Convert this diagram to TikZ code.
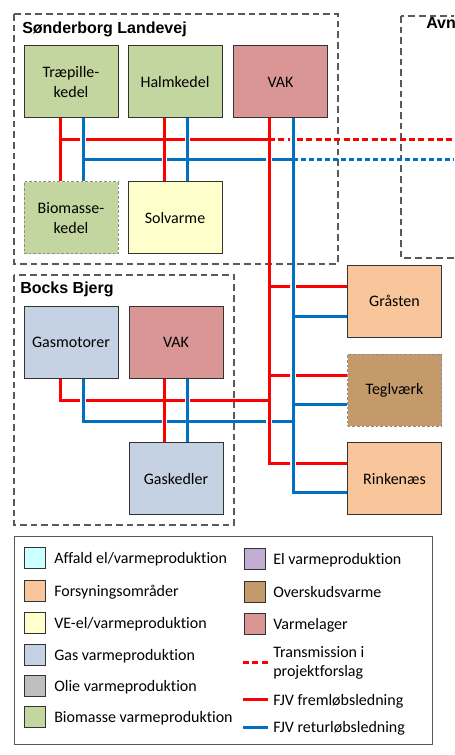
\documentclass[tikz,border=0pt]{standalone}
\usepackage{fontspec}
\setmainfont{Carlito}[Ligatures=NoCommon]
\newfontfamily\titlefont{Liberation Sans}
\usetikzlibrary{calc}

\definecolor{fjvred}{RGB}{255,0,0}
\definecolor{fjvblue}{RGB}{0,112,192}
\definecolor{affald}{RGB}{204,255,255}
\definecolor{forsyning}{RGB}{248,198,154}
\definecolor{vecolor}{RGB}{255,255,204}
\definecolor{gascolor}{RGB}{196,210,228}
\definecolor{oliecolor}{RGB}{191,191,191}
\definecolor{biocolor}{RGB}{196,214,160}
\definecolor{elcolor}{RGB}{194,173,210}
\definecolor{overskud}{RGB}{196,154,106}
\definecolor{lager}{RGB}{217,150,148}

\tikzset{
  box/.style={draw=black!80, line width=0.75pt, minimum width=70.5pt, minimum height=54pt,
    inner sep=0pt, align=center, font=\fontsize{12}{15}\selectfont},
  dashbox/.style={box, draw=black!45, dash pattern=on 2pt off 1.5pt},
  group/.style={draw=black!65, line width=1pt, dash pattern=on 5pt off 3pt},
  frem/.style={draw=fjvred, line width=2.25pt},
  retur/.style={draw=fjvblue, line width=2.25pt},
  transred/.style={frem, dash pattern=on 4.5pt off 2.5pt},
  transblue/.style={retur, dash pattern=on 3.5pt off 2.5pt},
  title/.style={anchor=base west, inner sep=0pt, font=\titlefont\bfseries\fontsize{12}{14}\selectfont},
  swatch/.style={draw=black!80, line width=0.75pt, minimum size=15.75pt, inner sep=0pt},
  legtext/.style={anchor=base west, inner sep=0pt, font=\fontsize{12}{14}\selectfont}
}

\newcommand{\pipegap}[3]{%
  \path (#1 |- #2) coordinate (gap);
  \fill[white] ([xshift=-1.9pt,yshift=-1.5pt]gap) rectangle ([xshift=1.9pt,yshift=1.5pt]gap);
  \draw[#3] ([yshift=-2.6pt]gap) -- ([yshift=2.6pt]gap);
}

\begin{document}
\begin{tikzpicture}[x=0.75pt,y=-0.75pt]
\useasboundingbox (0,0) rectangle (454,755);
\clip (0,0) rectangle (454,755);

\draw[group] (14,14) rectangle (338,264);
\draw[group] (14,275) rectangle (234,525);
\draw[group] (401,16) rectangle (470,258);
\node[title] (tsonder) at (22,34) {Sønderborg Landevej};
\node[title] (tbocks) at (20,293) {Bocks Bjerg};
\node[title] (tavn) at (426,29) {Avn};

\node[box, fill=biocolor] (trae) at (71,82) {Træpille-\\kedel};
\node[box, fill=biocolor] (halm) at (175,82) {Halmkedel};
\node[box, fill=lager] (vaks) at (280.5,82) {VAK};
\node[dashbox, fill=biocolor] (bio) at (71,218) {Biomasse-\\kedel};
\node[box, fill=vecolor] (sol) at (175,218) {Solvarme};

\node[box, fill=gascolor] (gasm) at (71,342.5) {Gasmotorer};
\node[box, fill=lager] (vakb) at (176,342.5) {VAK};
\node[box, fill=gascolor] (gask) at (176,478.5) {Gaskedler};

\node[box, fill=forsyning] (gra) at (394.5,301) {Gråsten};
\node[dashbox, fill=overskud] (tegl) at (394.5,390) {Teglværk};
\node[box, fill=forsyning] (rink) at (394.5,478.5) {Rinkenæs};

\coordinate (xr1) at (60,0);
\coordinate (xb1) at (83,0);
\coordinate (xr2) at (164.5,0);
\coordinate (xb2) at (187.5,0);
\coordinate (xr3) at (269,0);
\coordinate (xb3) at (293,0);
\coordinate (xend) at (454,0);
\coordinate (yr1) at (0,140);
\coordinate (yb1) at (0,160);
\coordinate (yr2) at (0,400);
\coordinate (yb2) at (0,421);
\coordinate (gr) at ($(gra.west)+(0,-15)$);
\coordinate (gb) at ($(gra.west)+(0,15)$);
\coordinate (tr) at ($(tegl.west)+(0,-15)$);
\coordinate (tb) at ($(tegl.west)+(0,14)$);
\coordinate (rr) at ($(rink.west)+(0,-15.5)$);
\coordinate (rb) at ($(rink.west)+(0,13.5)$);

\draw[frem] (trae.south -| xr1) -- (bio.north -| xr1);
\draw[retur] (trae.south -| xb1) -- (bio.north -| xb1);
\draw[frem] (halm.south -| xr2) -- (sol.north -| xr2);
\draw[retur] (halm.south -| xb2) -- (sol.north -| xb2);
\draw[frem] (xr1 |- yr1) -- (xr3 |- yr1);
\draw[retur] (xb1 |- yb1) -- (xb3 |- yb1);
\draw[transred] (xr3 |- yr1) -- (xend |- yr1);
\draw[transblue] (xb3 |- yb1) -- (xend |- yb1);

\draw[frem] (vaks.south -| xr3) |- (rr);
\draw[retur] (vaks.south -| xb3) |- (rb);
\draw[frem] (gr -| xr3) -- (gr);
\draw[retur] (gb -| xb3) -- (gb);
\draw[frem] (tr -| xr3) -- (tr);
\draw[retur] (tb -| xb3) -- (tb);

\draw[frem] (gasm.south -| xr1) |- (xr3 |- yr2);
\draw[retur] (gasm.south -| xb1) |- (xb3 |- yb2);
\draw[frem] (vakb.south -| xr2) -- (gask.north -| xr2);
\draw[retur] (vakb.south -| xb2) -- (gask.north -| xb2);

\foreach \vx/\hy/\pipe in {xb1/yr1/retur, xb2/yr1/retur, xb3/yr1/retur, xr2/yb1/frem,
    xr3/yb1/frem, xb3/gr/retur, xb3/tr/retur, xb3/rr/retur, xb1/yr2/retur,
    xb2/yr2/retur, xr2/yb2/frem, xr3/yb2/frem}
  {\pipegap{\vx}{\hy}{\pipe}}

\draw[draw=black!65, line width=0.75pt] (14,536) rectangle (432,744);

\node[swatch, fill=affald] (sw1) at (34.5,558) {};
\node[legtext] (lt1) at (54,563.5) {Affald el/varmeproduktion};
\node[swatch, fill=forsyning] (sw2) at (34.5,591) {};
\node[legtext] (lt2) at (54,596.5) {Forsyningsområder};
\node[swatch, fill=vecolor] (sw3) at (34.5,623) {};
\node[legtext] (lt3) at (54,628.5) {VE-el/varmeproduktion};
\node[swatch, fill=gascolor] (sw4) at (34.5,655) {};
\node[legtext] (lt4) at (54,660.5) {Gas varmeproduktion};
\node[swatch, fill=oliecolor] (sw5) at (34.5,686) {};
\node[legtext] (lt5) at (54,691.5) {Olie varmeproduktion};
\node[swatch, fill=biocolor] (sw6) at (34.5,717) {};
\node[legtext] (lt6) at (54,722.5) {Biomasse varmeproduktion};

\node[swatch, fill=elcolor] (sw7) at (254.5,559) {};
\node[legtext] (lt7) at (273,564.5) {El varmeproduktion};
\node[swatch, fill=overskud] (sw8) at (254.5,592) {};
\node[legtext] (lt8) at (273,597.5) {Overskudsvarme};
\node[swatch, fill=lager] (sw9) at (254.5,624) {};
\node[legtext] (lt9) at (273,629.5) {Varmelager};

\coordinate (lg1a) at (243,662);
\coordinate (lg1b) at (268,662);
\draw[transred] (lg1a) -- (lg1b);
\node[legtext] (lt10) at (273,657) {Transmission i};
\node[legtext] (lt11) at (273,676) {projektforslag};
\coordinate (lg2a) at (243,699);
\coordinate (lg2b) at (268,699);
\draw[frem] (lg2a) -- (lg2b);
\node[legtext] (lt12) at (273,705) {FJV fremløbsledning};
\coordinate (lg3a) at (243,727);
\coordinate (lg3b) at (268,727);
\draw[retur] (lg3a) -- (lg3b);
\node[legtext] (lt13) at (273,732) {FJV returløbsledning};
\end{tikzpicture}
\end{document}
